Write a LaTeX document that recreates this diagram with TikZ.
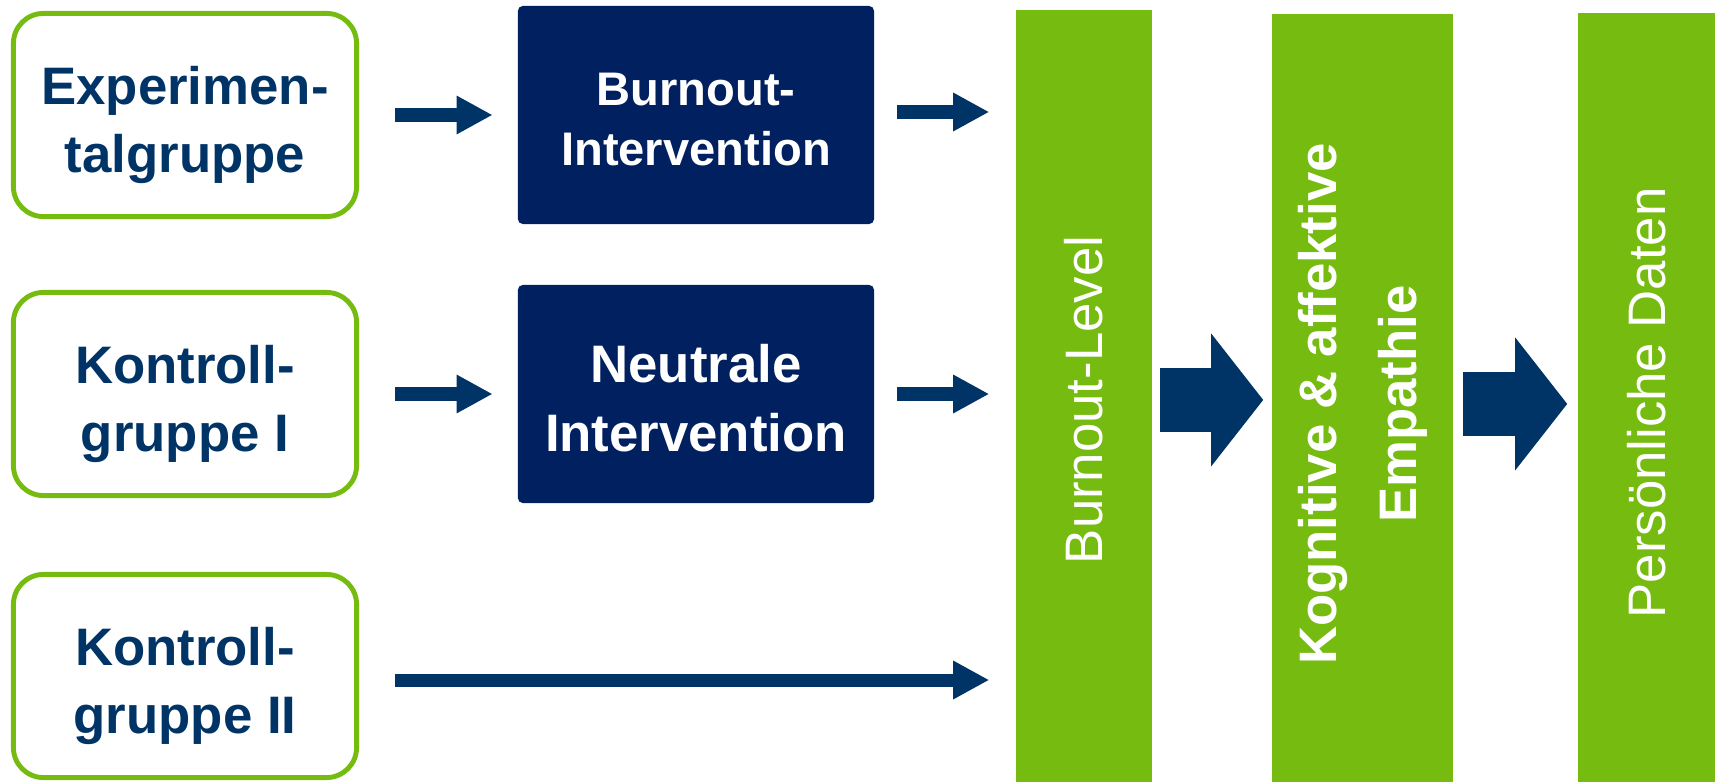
\documentclass[tikz,border=0pt]{standalone}
\usepackage{fontspec}
\setmainfont{Liberation Sans}
\usetikzlibrary{positioning, arrows.meta}
\definecolor{groupGreen}{RGB}{117,187,16}
\definecolor{navyBox}{RGB}{0,32,96}
\definecolor{arrowBlue}{RGB}{0,51,102}
\tikzstyle{diagram} = [x = 0.01cm, y = -0.01cm]
\tikzstyle{groupBox} = [draw=groupGreen, line width=1.4pt, fill=white, rounded corners=.3cm, minimum width=3.43cm, minimum height=2.03cm, align=center, text=arrowBlue, font=\fontsize{15}{19.3}\selectfont\bfseries]
\tikzstyle{interventionBox} = [fill=navyBox, rounded corners=.05cm, minimum width=3.56cm, minimum height=2.18cm, align=center, text=white]
\tikzstyle{measureBar} = [fill=groupGreen, anchor=north, minimum height=7.8cm, inner sep=0pt]
\tikzstyle{barText} = [rotate=90, text=white, align=center, font=\fontsize{15}{19}\selectfont]
\tikzstyle{smallArrow} = [draw=arrowBlue, line width=3.7pt, -{Triangle[width=.36cm, length=.36cm]}]
\tikzstyle{bigArrow} = [draw=arrowBlue, line width=18.4pt, -{Triangle[width=1.3cm, length=.52cm]}]
% invisible strut that pushes the first line down
\newcommand{\topGap}[1]{\rule{0pt}{#1}}

\begin{document}
\begin{tikzpicture}[diagram]
  \useasboundingbox (0,0) rectangle (1715,782);

  % groups
  \node [groupBox] (expGroup) at (185,115) {\topGap{16.5pt}Experimen-\\talgruppe};
  \node [groupBox] (ctrlOne) at (185,394) {\topGap{16.5pt}Kontroll-\\gruppe I};
  \node [groupBox] (ctrlTwo) at (185,676) {\topGap{16.5pt}Kontroll-\\gruppe II};

  % interventions
  \node [interventionBox, right = 1.58cm of expGroup, font=\fontsize{13.4}{17}\selectfont\bfseries] (burnInt) {\topGap{12pt}Burnout-\\Intervention};
  \node [interventionBox, right = 1.58cm of ctrlOne, font=\fontsize{15}{19.5}\selectfont\bfseries] (neutInt) {\topGap{13.3pt}Neutrale\\Intervention};

  % measures
  \node [measureBar, minimum width=1.36cm] (levelBar) at (1084,9) {};
  \node [measureBar, minimum width=1.81cm] (empathyBar) at (1362.5,13) {};
  \node [measureBar, minimum width=1.37cm] (dataBar) at (1646.5,12) {};
  \node [barText] (levelText) at (levelBar.center) {Burnout-Level};
  \node [barText, font=\fontsize{15}{22.8}\selectfont\bfseries] (empathyText) at (empathyBar.center) {Kognitive \& affektive\\Empathie};
  \node [barText] (dataText) at (dataBar.center) {Persönliche Daten};

  % arrows
  \draw [smallArrow, shorten <= .36cm, shorten >= .245cm] (expGroup.east) -- (burnInt.west);
  \draw [smallArrow, shorten <= .36cm, shorten >= .245cm] (ctrlOne.east) -- (neutInt.west);
  \draw [smallArrow, shorten <= .22cm, shorten >= .26cm] ([yshift=.03cm]burnInt.east) -- ([yshift=.03cm]burnInt.east -| levelBar.west);
  \draw [smallArrow, shorten <= .22cm, shorten >= .26cm] (neutInt.east) -- (neutInt.east -| levelBar.west);
  \draw [smallArrow, shorten <= .36cm, shorten >= .26cm] ([yshift=-.04cm]ctrlTwo.east) -- ([yshift=-.04cm]ctrlTwo.east -| levelBar.west);
  \draw [bigArrow, shorten <= .07cm, shorten >= .08cm] (levelBar.east) -- (levelBar.east -| empathyBar.west);
  \draw [bigArrow, shorten <= .09cm, shorten >= .1cm] (empathyBar.east) -- (empathyBar.east -| dataBar.west);
\end{tikzpicture}
\end{document}
